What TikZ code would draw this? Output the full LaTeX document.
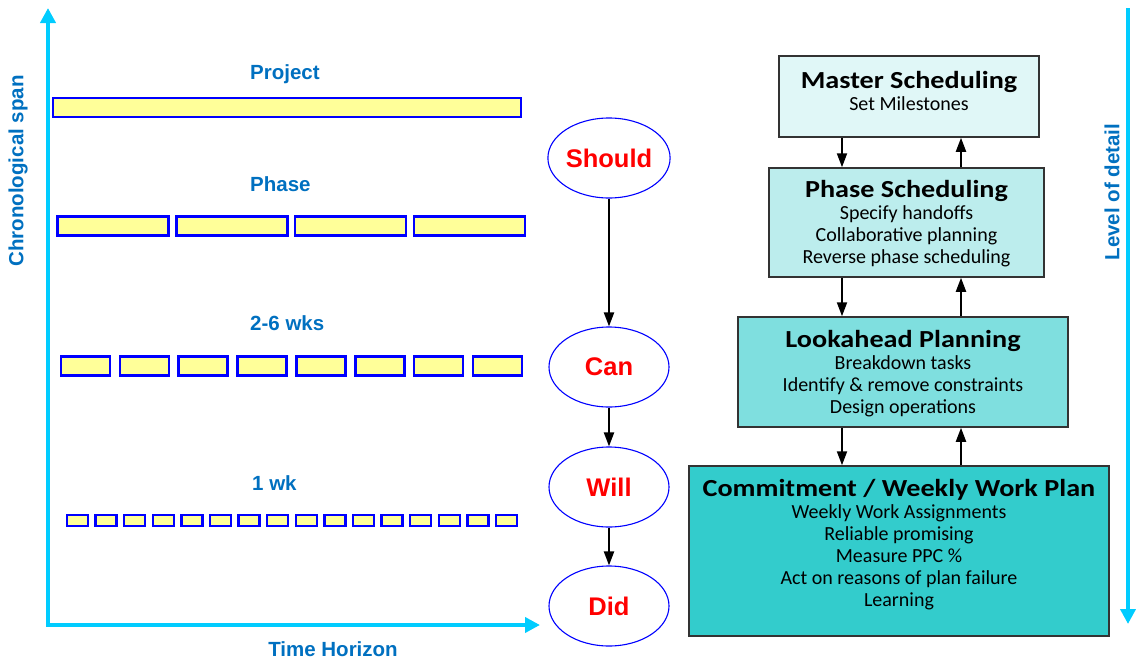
\documentclass[tikz,border=0pt]{standalone}
\usepackage{fontspec}
\setmainfont{Liberation Sans}
\newfontfamily\boxfont{Carlito}
\newfontfamily\titlefont[FakeStretch=1.15]{Carlito}
\usetikzlibrary{arrows.meta,shapes.geometric}
\definecolor{axiscyan}{HTML}{00CCFF}
\definecolor{lblue}{HTML}{0070C0}
\definecolor{barfill}{HTML}{FFFF99}
\definecolor{cmaster}{HTML}{E0F7F7}
\definecolor{cphase}{HTML}{BCEDED}
\definecolor{clook}{HTML}{7FDFDF}
\definecolor{ccommit}{HTML}{33CCCC}
\tikzset{
  axis/.style={draw=axiscyan, line width=4pt, -{Triangle[length=15pt,width=15pt]}},
  axislbl/.style={text=lblue, font=\fontsize{20.5}{24}\selectfont\bfseries, inner sep=0pt},
  bar/.style={draw=blue, fill=barfill, line width=2.5pt, inner sep=0pt},
  oval/.style={ellipse, draw=blue, line width=1.1pt, fill=white, minimum width=120pt, minimum height=80pt, inner sep=0pt, text=red, font=\fontsize{25.5}{30}\selectfont\bfseries},
  arr/.style={draw=black, line width=2pt, -{Triangle[length=14pt,width=10pt]}},
  plbox/.style={draw=black!80, line width=1.5pt, inner sep=0pt},
  pltext/.style={align=center, inner sep=0pt, font=\boxfont\fontsize{20}{22}\selectfont},
}
\newcommand{\ttl}[1]{{\titlefont\bfseries\fontsize{24.5}{26}\selectfont #1}}
\begin{document}
\begin{tikzpicture}[x=1pt,y=-1pt]
\useasboundingbox (0,0) rectangle (1136,659);
% axes
\coordinate (origin) at (48,625);
\coordinate (ytop) at (48,8);
\coordinate (xend) at (540,625);
\draw[axis] (origin) -- (ytop);
\draw[axis] ([xshift=-2pt]origin) -- (xend);
\node[axislbl, rotate=90] (chron) at (18,171) {Chronological span};
\node[axislbl] (timeh) at (333,649) {Time Horizon};
\coordinate (rtop) at (1128,8);
\coordinate (rbot) at (1128,624);
\draw[axis] (rtop) -- (rbot);
\node[axislbl, rotate=90] (lod) at (1112,192) {Level of detail};
% bar labels
\node[axislbl, anchor=west] (lproj) at (250,74) {Project};
\node[axislbl, anchor=west] (lphase) at (250,184) {Phase};
\node[axislbl, anchor=west] (lweeks) at (250,323) {2-6 wks};
\node[axislbl, anchor=west] (lwk) at (252,483) {1 wk};
% bars
\node[bar, minimum width=468pt, minimum height=19pt] (proj) at (287,107.5) {};
\foreach \i in {0,...,3}
  \node[bar, minimum width=111pt, minimum height=19pt] (ph\i) at ({113+118.8*\i},226) {};
\foreach \i in {0,...,7}
  \node[bar, minimum width=49pt, minimum height=19pt] (wk\i) at ({85.5+58.85*\i},366) {};
\foreach \i in {0,...,15}
  \node[bar, minimum width=21pt, minimum height=11pt] (d\i) at ({77.5+28.6*\i},520.5) {};
% ovals
\node[oval] (should) at (609,158) {Should};
\node[oval] (can) at (609,367) {Can};
\node[oval] (will) at (609,487) {Will};
\node[oval] (did) at (609,606) {Did};
\draw[arr] (should) -- (can);
\draw[arr] (can) -- (will);
\draw[arr] (will) -- (did);
% planning boxes
\node[plbox, fill=cmaster, minimum width=260pt, minimum height=81pt] (master) at (909,96.5) {};
\node[plbox, fill=cphase, minimum width=275pt, minimum height=109pt] (phase) at (906.5,222.5) {};
\node[plbox, fill=clook, minimum width=330pt, minimum height=110pt] (look) at (903,372) {};
\node[plbox, fill=ccommit, minimum width=420pt, minimum height=170pt] (commit) at (899,551) {};
\node[pltext] (tmaster) at (909,90.5) {\ttl{Master Scheduling}\\Set Milestones};
\node[pltext] (tphase) at (906.5,224) {\ttl{Phase Scheduling}\\Specify handoffs\\Collaborative planning\\Reverse phase scheduling};
\node[pltext] (tlook) at (903,374) {\ttl{Lookahead Planning}\\Breakdown tasks\\Identify \& remove constraints\\Design operations};
\node[pltext] (tcommit) at (899,544.5) {\ttl{Commitment / Weekly Work Plan}\\Weekly Work Assignments\\Reliable promising\\Measure PPC \%\\Act on reasons of plan failure\\Learning};
\coordinate (dx) at (842,0);
\coordinate (ux) at (961,0);
\draw[arr] (master.south -| dx) -- (phase.north -| dx);
\draw[arr] (phase.north -| ux) -- (master.south -| ux);
\draw[arr] (phase.south -| dx) -- (look.north -| dx);
\draw[arr] (look.north -| ux) -- (phase.south -| ux);
\draw[arr] (look.south -| dx) -- (commit.north -| dx);
\draw[arr] (commit.north -| ux) -- (look.south -| ux);
\end{tikzpicture}
\end{document}
